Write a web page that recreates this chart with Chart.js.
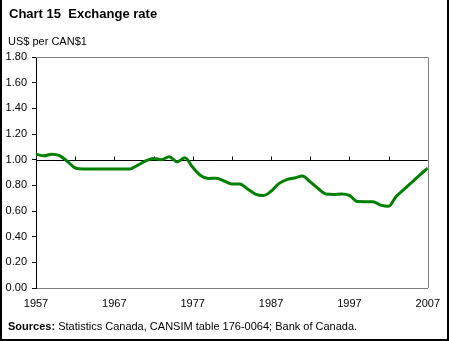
<!DOCTYPE html>
<html>
<head>
<meta charset="utf-8">
<script src="https://cdn.jsdelivr.net/npm/chart.js@4/dist/chart.umd.min.js"></script>
<style>
  body { margin: 0; background: #fff; }
  #wrap { position: relative; width: 449px; height: 341px; overflow: hidden; font-family: "Liberation Sans", Arial, sans-serif; color: #000; }
  #frame { position: absolute; left: 0; top: 0; width: 445px; height: 339px; border-left: 2px solid #000; border-right: 2px solid #000; border-bottom: 2px solid #000; pointer-events: none; }
  canvas { position: absolute; left: 0; top: 0; }
  .txt { position: absolute; white-space: nowrap; line-height: 1; }
  #title { left: 9px; top: 7px; font-size: 13px; font-weight: bold; }
  #unit { left: 8px; top: 36px; font-size: 11px; }
  #source { left: 8px; top: 321px; font-size: 11px; }
</style>
</head>
<body>
<div id="wrap">
  <canvas id="exchangeChart" width="449" height="341"></canvas>
  <div class="txt" id="title">Chart 15&nbsp;&nbsp;Exchange rate</div>
  <div class="txt" id="unit">US$ per CAN$1</div>
  <div class="txt" id="source"><b>Sources:</b> Statistics Canada, CANSIM table 176-0064; Bank of Canada.</div>
  <div id="frame"></div>
</div>
<script>
(function() {
  'use strict';

  // annual average, US dollars per Canadian dollar
  var years = [1957, 1958, 1959, 1960, 1961, 1962, 1963, 1964, 1965, 1966,
               1967, 1968, 1969, 1970, 1971, 1972, 1973, 1974, 1975, 1976,
               1977, 1978, 1979, 1980, 1981, 1982, 1983, 1984, 1985, 1986,
               1987, 1988, 1989, 1990, 1991, 1992, 1993, 1994, 1995, 1996,
               1997, 1998, 1999, 2000, 2001, 2002, 2003, 2004, 2005, 2006, 2007];
  var rates = [1.043, 1.030, 1.043, 1.032, 0.987, 0.935, 0.927, 0.927, 0.928, 0.928,
               0.928, 0.928, 0.928, 0.958, 0.990, 1.009, 1.000, 1.023, 0.983, 1.014,
               0.940, 0.877, 0.854, 0.855, 0.834, 0.811, 0.811, 0.772, 0.732, 0.720,
               0.754, 0.813, 0.845, 0.857, 0.873, 0.827, 0.775, 0.732, 0.729, 0.733,
               0.722, 0.674, 0.673, 0.673, 0.646, 0.637, 0.716, 0.770, 0.826, 0.882, 0.935];
  var yTicks = [0, 0.2, 0.4, 0.6, 0.8, 1.0, 1.2, 1.4, 1.6, 1.8];
  var xLabelYears = [1957, 1967, 1977, 1987, 1997, 2007];
  var parityTicks = [1962, 1967, 1972, 1977, 1982, 1987, 1992, 1997, 2002];
  var parity = 1.0;

  var points = years.map(function(yr, i) { return { x: yr, y: rates[i] }; });

  // gray top/right frame plus the parity line with its small ticks
  var parityLine = {
    id: 'parityLine',
    beforeDatasetsDraw: function(chart) {
      var c = chart.ctx, a = chart.chartArea;
      var xs = chart.scales.x, ys = chart.scales.y;
      c.save();
      c.lineWidth = 1;
      c.strokeStyle = '#808080';
      c.beginPath();
      c.moveTo(a.left, Math.round(a.top) + 0.5);
      c.lineTo(Math.round(a.right) + 0.5, Math.round(a.top) + 0.5);
      c.lineTo(Math.round(a.right) + 0.5, a.bottom);
      c.stroke();

      var py = Math.round(ys.getPixelForValue(parity)) + 0.5;
      c.strokeStyle = '#000';
      c.beginPath();
      c.moveTo(a.left, py);
      c.lineTo(a.right, py);
      parityTicks.forEach(function(t) {
        var px = Math.round(xs.getPixelForValue(t)) + 0.5;
        c.moveTo(px, py);
        c.lineTo(px, py - 4);
      });
      c.stroke();
      c.restore();
    }
  };

  new Chart(document.getElementById('exchangeChart'), {
    type: 'line',
    data: {
      datasets: [{
        data: points,
        borderColor: '#008000',
        borderWidth: 3,
        pointRadius: 0,
        fill: false,
        cubicInterpolationMode: 'monotone'
      }]
    },
    options: {
      responsive: false,
      animation: false,
      events: [],
      layout: { padding: { left: 0, top: 57, right: 20, bottom: 0 } },
      plugins: { legend: { display: false }, tooltip: { enabled: false } },
      scales: {
        x: {
          type: 'linear',
          min: years[0],
          max: years[years.length - 1],
          afterFit: function(s) { s.height = 53; },
          afterBuildTicks: function(s) {
            s.ticks = xLabelYears.map(function(v) { return { value: v }; });
          },
          ticks: {
            autoSkip: false,
            maxRotation: 0,
            padding: 9,
            color: '#000',
            font: { family: '"Liberation Sans", Arial, sans-serif', size: 11 },
            callback: function(v) { return String(v); }
          },
          grid: { display: false, drawTicks: false },
          border: { display: true, color: '#808080', width: 1 }
        },
        y: {
          min: 0,
          max: 1.8,
          afterFit: function(s) { s.width = 36; },
          afterBuildTicks: function(s) {
            s.ticks = yTicks.map(function(v) { return { value: v }; });
          },
          ticks: {
            padding: 5,
            color: '#000',
            font: { family: '"Liberation Sans", Arial, sans-serif', size: 11 },
            callback: function(v) { return Number(v).toFixed(2); }
          },
          grid: { drawOnChartArea: false, drawTicks: true, tickLength: 4, color: '#000' },
          border: { display: true, color: '#000', width: 1 }
        }
      }
    },
    plugins: [parityLine]
  });

}());
</script>
</body>
</html>
